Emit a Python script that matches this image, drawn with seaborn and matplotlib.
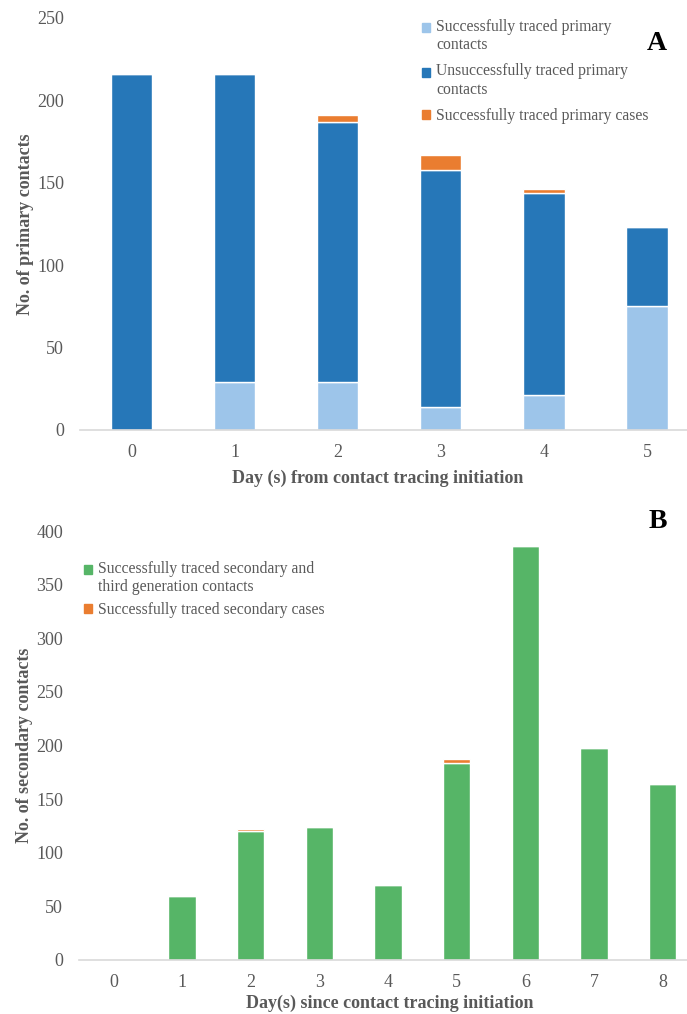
import numpy as np
import pandas as pd
import matplotlib
matplotlib.use("Agg")
import matplotlib.pyplot as plt
from matplotlib.patches import Patch, Rectangle
from matplotlib.legend_handler import HandlerPatch
import seaborn as sns

# Panel A: primary contacts per day
days_a = ["0", "1", "2", "3", "4", "5"]
traced_contacts = [0, 29, 29, 14, 21, 75]
untraced_contacts = [216, 187, 158, 144, 123, 48]
traced_cases = [0, 0, 4, 9, 2, 0]

# Panel B: secondary contacts per day
days_b = ["0", "1", "2", "3", "4", "5", "6", "7", "8"]
secondary_contacts = [0, 60, 120, 124, 70, 184, 386, 198, 164]
secondary_cases = [0, 0, 2, 0, 0, 3, 0, 0, 0]

sns.set_theme(style="white")
plt.rcParams["font.family"] = ["Liberation Serif", "DejaVu Serif"]

C_LIGHT = "#9DC5EA"
C_DARK = "#2677B8"
C_ORANGE = "#EA7D30"
C_GREEN = "#56B567"
GREY_TXT = "#595959"
AXIS_LINE = "#D9D9D9"

fig = plt.figure(figsize=(6.87, 10.14), dpi=100)
ax_a = fig.add_axes([80 / 687, (1014 - 430) / 1014, 618.6 / 687, 412 / 1014])
ax_b = fig.add_axes([79 / 687, (1014 - 960) / 1014, 618 / 687, 429 / 1014])

df_a = pd.DataFrame({
    "day": days_a,
    "light": traced_contacts,
    "dark": untraced_contacts,
    "orange": traced_cases,
})
df_a["b_dark"] = df_a["light"]
df_a["b_orange"] = df_a["light"] + df_a["dark"]

sns.barplot(data=df_a, x="day", y="light", color=C_LIGHT, width=0.4,
            errorbar=None, saturation=1, ax=ax_a, order=days_a)
sns.barplot(data=df_a, x="day", y="dark", color=C_DARK, width=0.4,
            errorbar=None, saturation=1, ax=ax_a, order=days_a,
            bottom=df_a["b_dark"].values)
sns.barplot(data=df_a, x="day", y="orange", color=C_ORANGE, width=0.4,
            errorbar=None, saturation=1, ax=ax_a, order=days_a,
            bottom=df_a["b_orange"].values)

df_b = pd.DataFrame({
    "day": days_b,
    "green": secondary_contacts,
    "orange": secondary_cases,
})
sns.barplot(data=df_b, x="day", y="green", color=C_GREEN, width=0.4,
            errorbar=None, saturation=1, ax=ax_b, order=days_b)
sns.barplot(data=df_b, x="day", y="orange", color=C_ORANGE, width=0.4,
            errorbar=None, saturation=1, ax=ax_b, order=days_b,
            bottom=df_b["green"].values)


def style_axes(ax, ymax, step, n):
    ax.set_xlim(-0.5, n - 0.5)
    ax.set_ylim(0, ymax)
    ax.set_yticks(np.arange(0, ymax + 1, step))
    for s in ["top", "right", "left"]:
        ax.spines[s].set_visible(False)
    ax.spines["bottom"].set_color(AXIS_LINE)
    ax.spines["bottom"].set_linewidth(1.2)
    ax.tick_params(axis="both", length=0, labelsize=13, colors=GREY_TXT)
    ax.tick_params(axis="y", pad=11.5)
    ax.tick_params(axis="x", pad=10)
    ax.grid(False)
    ax.set_facecolor("white")


style_axes(ax_a, 250, 50, len(days_a))
style_axes(ax_b, 400, 50, len(days_b))

lab_kw = dict(fontsize=13, fontweight="bold", color=GREY_TXT)
ax_a.set_ylabel("No. of primary contacts", **lab_kw)
ax_a.set_xlabel("Day (s) from contact tracing initiation", **lab_kw)
ax_a.yaxis.set_label_coords(-0.075, 0.5)
ax_a.xaxis.set_label_coords(0.482, -0.097)

ax_b.set_ylabel("No. of secondary contacts", **lab_kw)
ax_b.set_xlabel("Day(s) since contact tracing initiation", **lab_kw)
ax_b.yaxis.set_label_coords(-0.075, 0.5)
ax_b.xaxis.set_label_coords(0.503, -0.082)


def square_on_first_line(label):
    """Legend square aligned with the first line of a (possibly wrapped) label."""
    n_lines = label.count("\n") + 1
    lift = 6.3 * (n_lines - 1)

    def make(legend, orig_handle, xdescent, ydescent, width, height, fontsize):
        return Rectangle((-xdescent, -ydescent + lift), width, height)
    return HandlerPatch(patch_func=make)


def add_legend(ax, colors, labels, anchor, spacing):
    handles = [Patch(color=c, label=l) for c, l in zip(colors, labels)]
    hmap = {h: square_on_first_line(l) for h, l in zip(handles, labels)}
    ax.legend(handles=handles, handler_map=hmap, loc="upper left",
              bbox_to_anchor=anchor, labelspacing=spacing, frameon=False,
              fontsize=11.3, labelcolor=GREY_TXT, handlelength=0.5,
              handleheight=0.5, handletextpad=0.4, borderaxespad=0,
              borderpad=0)


add_legend(ax_a, [C_LIGHT, C_DARK, C_ORANGE],
           ["Successfully traced primary\ncontacts",
            "Unsuccessfully traced primary\ncontacts",
            "Successfully traced primary cases"],
           (0.553, 0.998), 0.65)

add_legend(ax_b, [C_GREEN, C_ORANGE],
           ["Successfully traced secondary and\nthird generation contacts",
            "Successfully traced secondary cases"],
           (0.008, 0.93), 0.4)

fig.text(657 / 687, 1 - 43 / 1014, "A", fontsize=20, fontweight="bold",
         color="black", ha="center", va="center")
fig.text(658 / 687, 1 - 522 / 1014, "B", fontsize=20, fontweight="bold",
         color="black", ha="center", va="center")

fig.savefig("out.png", dpi=100, facecolor="white")
